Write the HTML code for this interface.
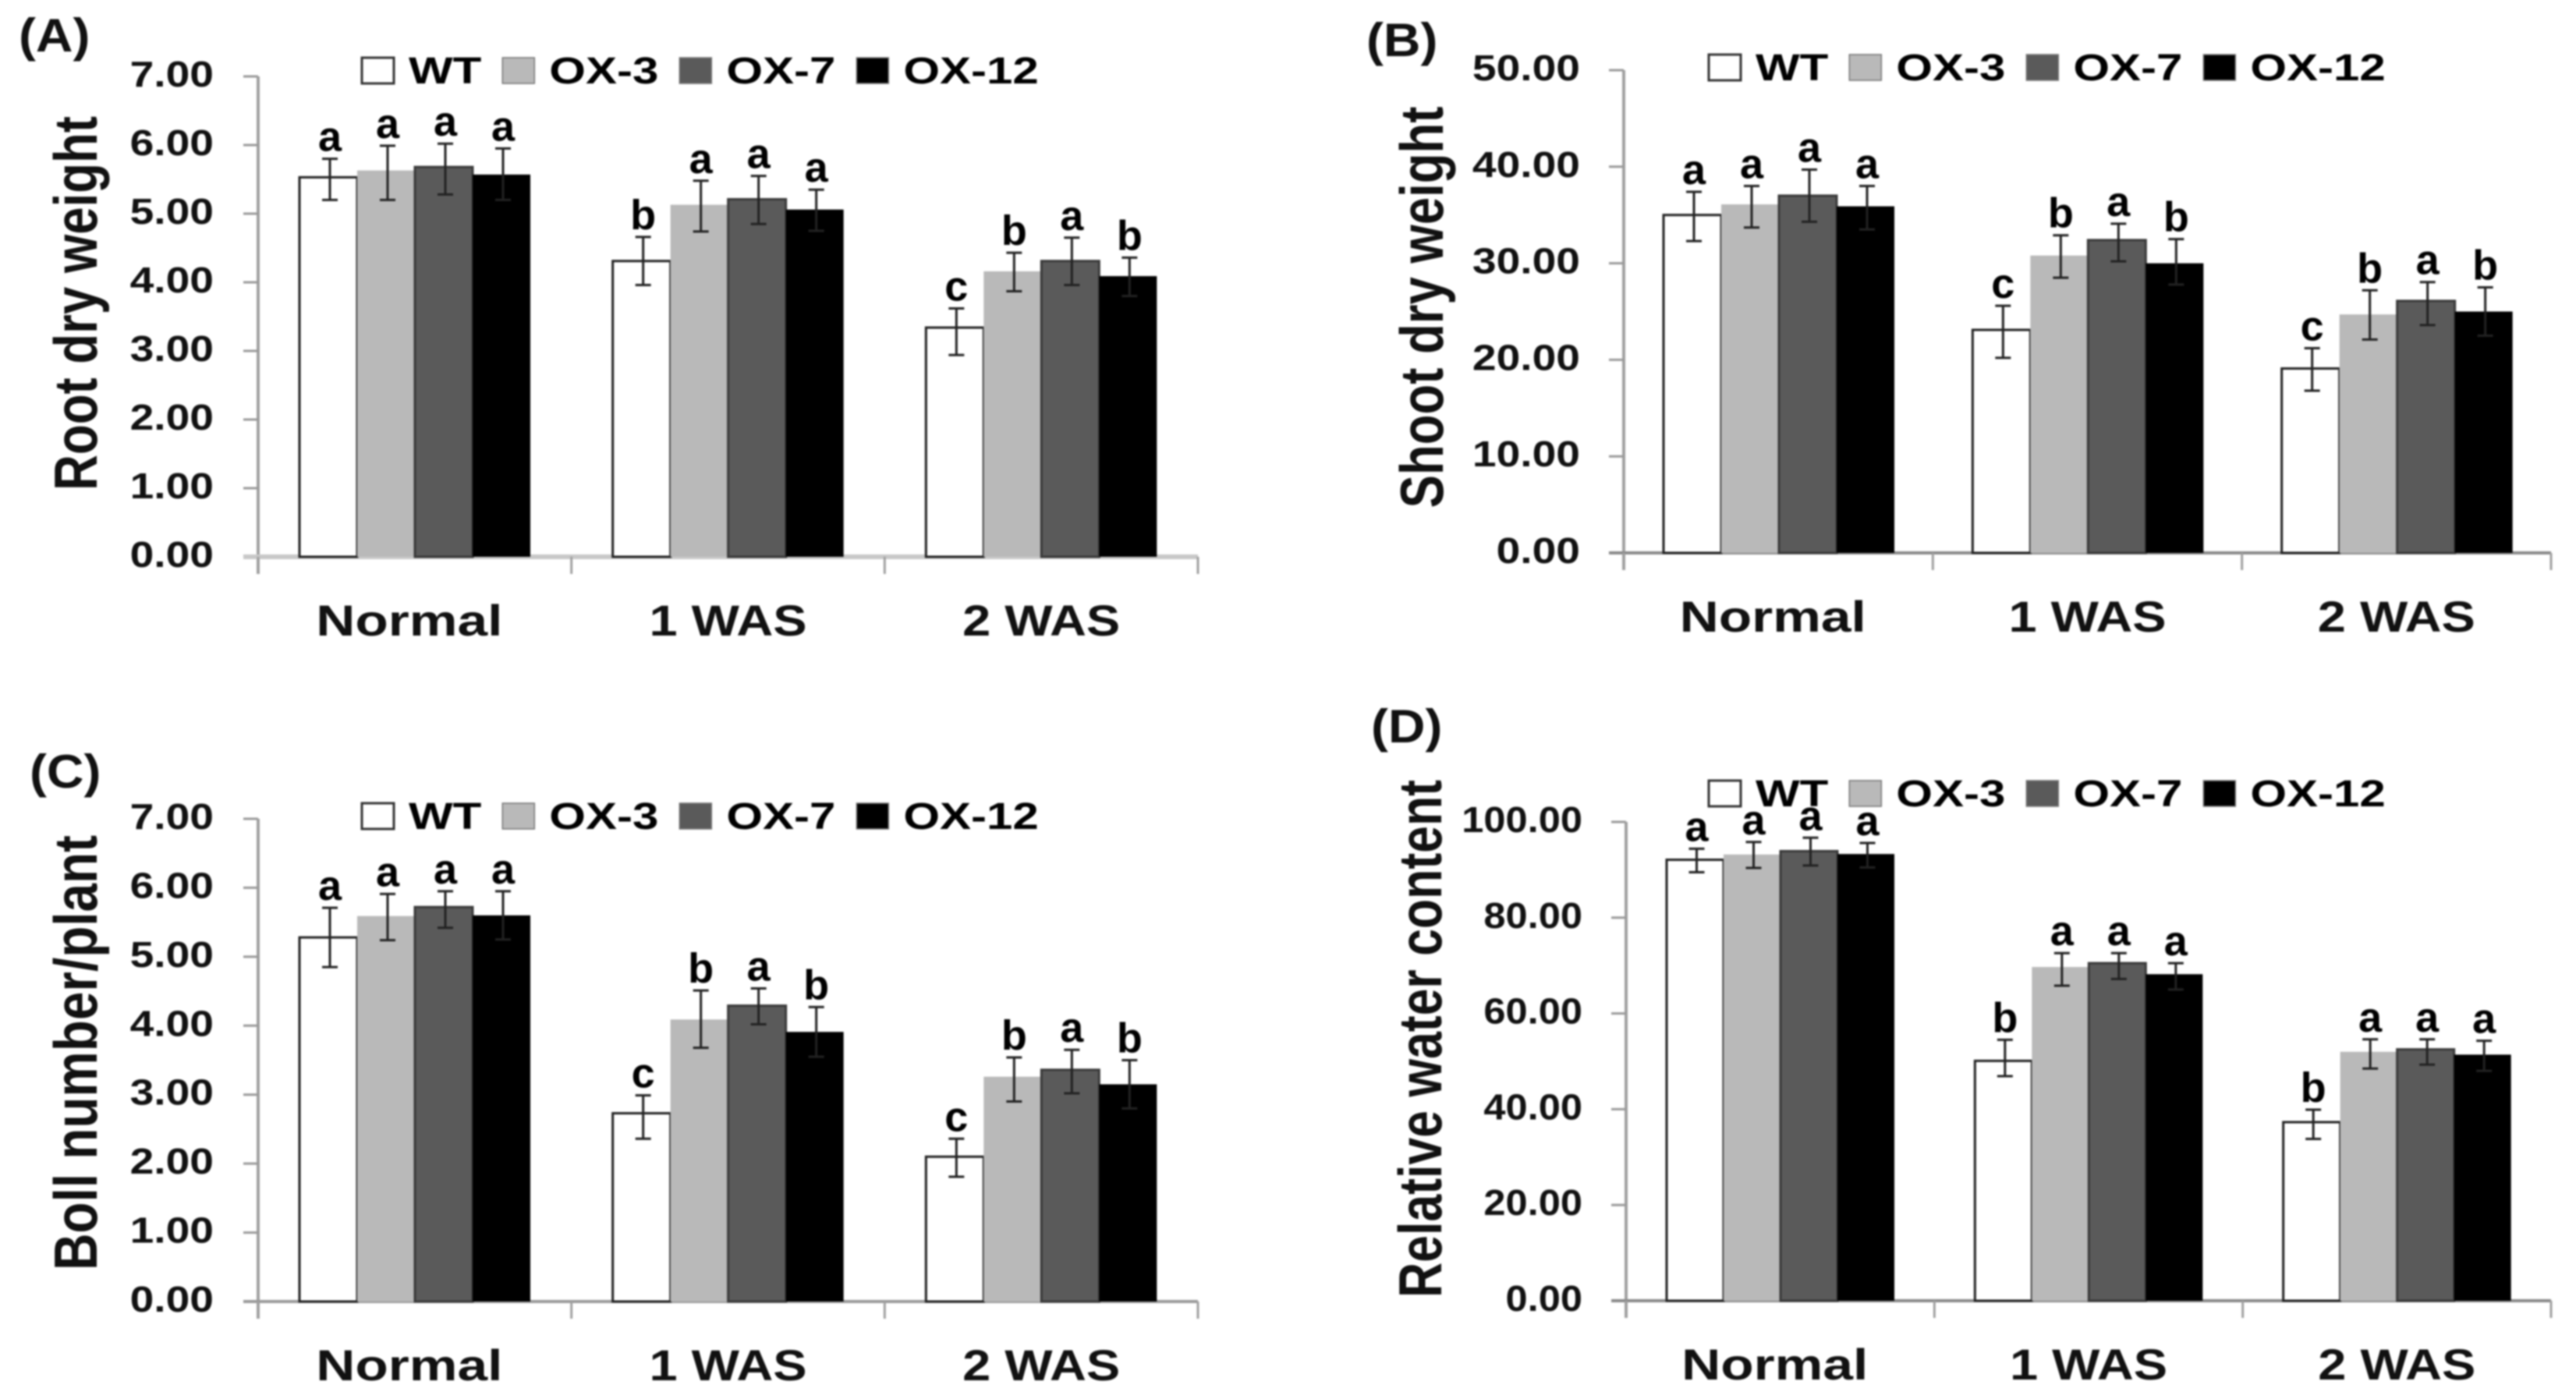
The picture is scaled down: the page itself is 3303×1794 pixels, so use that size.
<!DOCTYPE html>
<html>
<head>
<meta charset="utf-8">
<title>Dry weight, boll number and water content</title>
<style>
html,body{margin:0;padding:0;background:#fff;width:3303px;height:1794px;overflow:hidden}
svg{display:block;font-family:"Liberation Sans",sans-serif;font-weight:bold;filter:blur(1px)}
</style>
</head>
<body>
<svg id="figure" xmlns="http://www.w3.org/2000/svg" width="3303" height="1794" viewBox="0 0 3303 1794"></svg>
<script>
const categories = ["Normal", "1 WAS", "2 WAS"];
const seriesNames = ["WT", "OX-3", "OX-7", "OX-12"];

const rootTicks = [0, 1, 2, 3, 4, 5, 6, 7];
const rootValues = [[5.53, 5.63, 5.68, 5.57], [4.31, 5.13, 5.21, 5.06], [3.34, 4.16, 4.31, 4.09]];
const rootHigh = [[5.80, 5.99, 6.02, 5.95], [4.66, 5.48, 5.55, 5.35], [3.62, 4.43, 4.65, 4.36]];
const rootLow = [[5.20, 5.20, 5.28, 5.20], [3.96, 4.74, 4.85, 4.75], [2.94, 3.87, 3.96, 3.80]];
const rootLetters = [["a", "a", "a", "a"], ["b", "a", "a", "a"], ["c", "b", "a", "b"]];

const shootTicks = [0, 10, 20, 30, 40, 50];
const shootValues = [[35.0, 36.1, 37.0, 35.9], [23.1, 30.8, 32.4, 30.0], [19.1, 24.7, 26.1, 25.0]];
const shootHigh = [[37.4, 38.0, 39.7, 38.0], [25.6, 32.9, 34.1, 32.5], [21.2, 27.2, 28.05, 27.5]];
const shootLow = [[32.3, 33.7, 34.3, 33.5], [20.2, 28.5, 30.2, 27.8], [16.8, 22.1, 23.6, 22.5]];
const shootLetters = [["a", "a", "a", "a"], ["c", "b", "a", "b"], ["c", "b", "a", "b"]];

const bollTicks = [0, 1, 2, 3, 4, 5, 6, 7];
const bollValues = [[5.28, 5.59, 5.72, 5.60], [2.73, 4.09, 4.29, 3.91], [2.10, 3.26, 3.36, 3.15]];
const bollHigh = [[5.71, 5.91, 5.95, 5.95], [2.99, 4.51, 4.54, 4.27], [2.36, 3.54, 3.65, 3.50]];
const bollLow = [[4.85, 5.24, 5.42, 5.25], [2.36, 3.68, 4.02, 3.55], [1.81, 2.90, 3.02, 2.80]];
const bollLetters = [["a", "a", "a", "a"], ["c", "b", "a", "b"], ["c", "b", "a", "b"]];

const waterTicks = [0, 20, 40, 60, 80, 100];
const waterValues = [[92.1, 93.2, 93.9, 93.3], [50.1, 69.7, 70.5, 68.2], [37.3, 52.0, 52.5, 51.4]];
const waterHigh = [[94.4, 95.8, 96.7, 95.6], [54.5, 72.6, 72.6, 70.5], [39.9, 54.6, 54.6, 54.3]];
const waterLow = [[89.5, 90.4, 90.9, 90.5], [46.9, 65.8, 67.2, 65.0], [33.8, 48.5, 49.3, 48.0]];
const waterLetters = [["a", "a", "a", "a"], ["b", "a", "a", "a"], ["b", "a", "a", "a"]];

const barFills = ["#ffffff", "#b9b9b9", "#5a5a5a", "#000000"];
const NS = "http://www.w3.org/2000/svg";
const fig = document.getElementById("figure");

function make(parent, tag, attrs, text) {
  const el = document.createElementNS(NS, tag);
  for (const k in attrs) el.setAttribute(k, attrs[k]);
  if (text !== undefined) el.textContent = text;
  parent.appendChild(el);
  return el;
}

function drawPanel(p) {
  const g = make(fig, "g", {});
  
  
  const maxTick = p.ticks[p.ticks.length - 1];
  const yScale = v => p.y0 - (v / maxTick) * (p.y0 - p.yTop);
  const band = (p.xEnd - p.axisX) / categories.length;
  const barW = p.barW;
  const barX = (c, s) => p.axisX + band * c + p.barOffset + barW * s;

  const letter = make(g, "text", {x: 0, y: 0, "font-size": 54, fill: "#111", transform: "translate(" + p.letterX + "," + p.letterY + ") scale(1.22,1.12)"}, p.panelLetter);
  
  

  // y axis
  const yAxis = make(g, "line", {x1: p.axisX, x2: p.axisX, y1: p.yTop, y2: p.y0 + 22, stroke: "#a0a0a0", "stroke-width": 4});
  
  
  p.ticks.forEach(t => {
    const y = yScale(t);
    const tick = make(g, "line", {x1: p.axisX - 19, x2: p.axisX, y1: y, y2: y, stroke: "#9a9a9a", "stroke-width": 3});
    
    
    const lab = make(g, "text", {x: 0, y: 0, "font-size": 46, "text-anchor": "end", fill: "#111",
      transform: "translate(" + p.tickRight + "," + (y + 13) + ") scale(" + p.tickScale + ",1)"}, t.toFixed(2));
    
    
  });

  // x axis
  const xAxis = make(g, "line", {x1: p.axisX - 19, x2: p.xEnd, y1: p.y0, y2: p.y0, stroke: p.xAxisColor, "stroke-width": p.xAxisWidth});
  
  
  for (let i = 0; i <= categories.length; i++) {
    const x = p.axisX + band * i;
    const tick = make(g, "line", {x1: x, x2: x, y1: p.y0, y2: p.y0 + 22, stroke: "#a0a0a0", "stroke-width": 3});
    
    
  }
  categories.forEach((c, i) => {
    const x = p.axisX + band * (i + 0.5) - (i === 0 ? 7 : 0);
    const sx = i === 0 ? 1.24 : 1.16;
    const lab = make(g, "text", {x: 0, y: 0, "font-size": 56, "text-anchor": "middle", fill: "#111",
      transform: "translate(" + x + "," + (p.y0 + 101) + ") scale(" + sx + ",1)"}, c);
    
    
  });

  // bars
  p.values.forEach((grp, c) => {
    grp.forEach((v, s) => {
      const y = yScale(v);
      const bar = make(g, "rect", {x: barX(c, s), y: y, width: barW, height: p.y0 - y, fill: barFills[s],
        stroke: s === 0 ? "#222" : (s === 2 ? "#3a3a3a" : "none"), "stroke-width": 3});
      
      
    });
  });

  // error bars and significance letters
  p.values.forEach((grp, c) => {
    grp.forEach((v, s) => {
      const cx = barX(c, s) + barW / 2 + 2;
      const hi = yScale(p.high[c][s]);
      const lo = yScale(p.low[c][s]);
      const stem = make(g, "line", {x1: cx, x2: cx, y1: hi, y2: lo, stroke: "#222", "stroke-width": 3});
      
      
      const capTop = make(g, "line", {x1: cx - 10, x2: cx + 10, y1: hi, y2: hi, stroke: "#222", "stroke-width": 3});
      
      
      const capBot = make(g, "line", {x1: cx - 10, x2: cx + 10, y1: lo, y2: lo, stroke: "#222", "stroke-width": 3});
      
      
      const sig = make(g, "text", {x: cx, y: hi - 10, "font-size": 54, "text-anchor": "middle", fill: "#000"}, p.letters[c][s]);
      
      
    });
  });

  // y title
  const title = make(g, "text", {x: 0, y: 0, "font-size": 78, "text-anchor": "middle", fill: "#111",
    textLength: p.titleLen, lengthAdjust: "spacingAndGlyphs",
    transform: "translate(" + p.titleX + "," + p.titleY + ") rotate(-90)"}, p.title);
  
  

  // legend
  let lx = p.legendX;
  seriesNames.forEach((name, s) => {
    const box = make(g, "rect", {x: lx, y: p.legendY - 33, width: 41, height: 33, fill: barFills[s], stroke: s === 0 ? "#333" : "#777", "stroke-width": s === 0 ? 3 : 1.5});
    
    
    lx += 41 + 19;
    const t = make(g, "text", {x: 0, y: 0, "font-size": 48, fill: "#000", transform: "translate(" + lx + "," + p.legendY + ") scale(1.25,1)"}, name);
    
    
    lx += t.getComputedTextLength() * 1.25 + 27;
  });
}

drawPanel({key: "root", panelLetter: "(A)", title: "Root dry weight", ticks: rootTicks, values: rootValues, high: rootHigh, low: rootLow, letters: rootLetters,
  axisX: 331, xEnd: 1536, y0: 714, yTop: 98, barOffset: 53, barW: 74, tickRight: 274, tickScale: 1.2,
  xAxisColor: "#c8c8c8", xAxisWidth: 6, titleX: 124, titleY: 389, titleLen: 480,
  legendX: 464, legendY: 107, letterX: 24, letterY: 66});
drawPanel({key: "shoot", panelLetter: "(B)", title: "Shoot dry weight", ticks: shootTicks, values: shootValues, high: shootHigh, low: shootLow, letters: shootLetters,
  axisX: 2082, xEnd: 3271, y0: 709, yTop: 90, barOffset: 51, barW: 74, tickRight: 2026, tickScale: 1.2,
  xAxisColor: "#8a8a8a", xAxisWidth: 4, titleX: 1850, titleY: 394, titleLen: 515,
  legendX: 2191, legendY: 103, letterX: 1752, letterY: 72});
drawPanel({key: "boll", panelLetter: "(C)", title: "Boll number/plant", ticks: bollTicks, values: bollValues, high: bollHigh, low: bollLow, letters: bollLetters,
  axisX: 331, xEnd: 1536, y0: 1669, yTop: 1050, barOffset: 53, barW: 74, tickRight: 274, tickScale: 1.2,
  xAxisColor: "#9a9a9a", xAxisWidth: 4, titleX: 124, titleY: 1350, titleLen: 558,
  legendX: 464, legendY: 1063, letterX: 38, letterY: 1010});
drawPanel({key: "water", panelLetter: "(D)", title: "Relative water content", ticks: waterTicks, values: waterValues, high: waterHigh, low: waterLow, letters: waterLetters,
  axisX: 2085, xEnd: 3271, y0: 1668, yTop: 1054, barOffset: 52, barW: 73, tickRight: 2029, tickScale: 1.1,
  xAxisColor: "#8a8a8a", xAxisWidth: 4, titleX: 1848, titleY: 1332, titleLen: 664,
  legendX: 2191, legendY: 1034, letterX: 1758, letterY: 952});
</script>
</body>
</html>
